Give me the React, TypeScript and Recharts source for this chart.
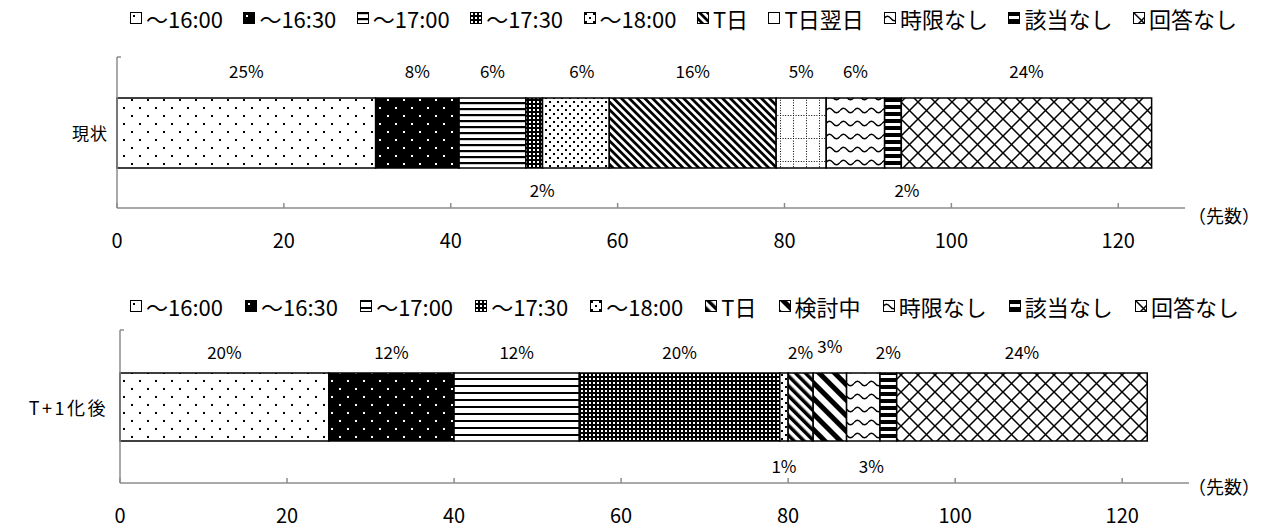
import React from "react";
import { BarChart, Bar, XAxis, YAxis, LabelList } from "recharts";

// 現状
const categoryNow = "現状";
const seriesNow = ["〜16:00", "〜16:30", "〜17:00", "〜17:30", "〜18:00", "T日", "T日翌日", "時限なし", "該当なし", "回答なし"];
const valuesNow = [31, 10, 8, 2, 8, 20, 6, 7, 2, 30];

// T+1化後
const categoryAfter = "T+1化後";
const seriesAfter = ["〜16:00", "〜16:30", "〜17:00", "〜17:30", "〜18:00", "T日", "検討中", "時限なし", "該当なし", "回答なし"];
const valuesAfter = [25, 15, 15, 24, 1, 3, 4, 4, 2, 30];

const xTicks = [0, 20, 40, 60, 80, 100, 120];
const unitLabel = "（先数）";

const FONT = '"Noto Sans CJK JP", "Noto Sans", sans-serif';
const AXIS = "#8c8c8c";

const fillsNow = ["p-dot", "p-dotinv", "p-hline", "p-grid", "p-dot2", "p-diag", "p-dotgrid", "p-wave", "p-hthick", "p-diamond"];
const fillsAfter = ["p-dot", "p-dotinv", "p-hline2", "p-grid", "p-dot2", "p-diag2", "p-diag3", "p-wave", "p-hthick", "p-diamond"];

function Patterns() {
  return (
    <svg width="0" height="0" style={{ position: "absolute" }}>
      <defs>
        <pattern id="p-dot" width="16" height="16" patternUnits="userSpaceOnUse">
          <rect width="16" height="16" fill="#fff" />
          <rect x="3" y="3" width="2" height="2" fill="#000" />
          <rect x="11" y="11" width="2" height="2" fill="#000" />
        </pattern>
        <pattern id="p-dotinv" width="16" height="16" patternUnits="userSpaceOnUse">
          <rect width="16" height="16" fill="#000" />
          <rect x="3" y="3" width="2" height="2" fill="#fff" />
          <rect x="11" y="11" width="2" height="2" fill="#fff" />
        </pattern>
        <pattern id="p-hline" width="8" height="6" patternUnits="userSpaceOnUse">
          <rect width="8" height="6" fill="#fff" />
          <rect y="0" width="8" height="2.2" fill="#000" />
        </pattern>
        <pattern id="p-hline2" width="8" height="7" patternUnits="userSpaceOnUse">
          <rect width="8" height="7" fill="#fff" />
          <rect y="0" width="8" height="2" fill="#000" />
        </pattern>
        <pattern id="p-grid" width="4" height="4" patternUnits="userSpaceOnUse">
          <rect width="4" height="4" fill="#000" />
          <rect x="1" y="1" width="2" height="2" fill="#fff" />
        </pattern>
        <pattern id="p-dot2" width="8" height="8" patternUnits="userSpaceOnUse">
          <rect width="8" height="8" fill="#fff" />
          <rect x="1" y="1" width="2" height="2" fill="#000" />
          <rect x="5" y="5" width="2" height="2" fill="#000" />
        </pattern>
        <pattern id="p-diag" width="5.5" height="10" patternUnits="userSpaceOnUse" patternTransform="rotate(-45)">
          <rect width="5.5" height="10" fill="#fff" />
          <rect width="2.75" height="10" fill="#000" />
        </pattern>
        <pattern id="p-diag2" width="7" height="10" patternUnits="userSpaceOnUse" patternTransform="rotate(-45)">
          <rect width="7" height="10" fill="#fff" />
          <rect width="3.5" height="10" fill="#000" />
        </pattern>
        <pattern id="p-diag3" width="11" height="10" patternUnits="userSpaceOnUse" patternTransform="rotate(-45)">
          <rect width="11" height="10" fill="#fff" />
          <rect width="5" height="10" fill="#000" />
        </pattern>
        <pattern id="p-dotgrid" width="13" height="23" patternUnits="userSpaceOnUse">
          <rect width="13" height="23" fill="#fff" />
          <line x1="0" y1="0.5" x2="13" y2="0.5" stroke="#000" strokeWidth="1" strokeDasharray="1 1.6" />
          <line x1="0.5" y1="0" x2="0.5" y2="23" stroke="#000" strokeWidth="1" strokeDasharray="1 1.6" />
        </pattern>
        <pattern id="p-wave" width="14" height="13" patternUnits="userSpaceOnUse">
          <rect width="14" height="13" fill="#fff" />
          <path d="M0 6.5 Q3.5 2 7 6.5 T14 6.5" stroke="#000" strokeWidth="1.3" fill="none" />
        </pattern>
        <pattern id="p-hthick" width="8" height="7" patternUnits="userSpaceOnUse">
          <rect width="8" height="7" fill="#fff" />
          <rect width="8" height="4" fill="#000" />
        </pattern>
        <pattern id="p-diamond" width="17" height="17" patternUnits="userSpaceOnUse">
          <rect width="17" height="17" fill="#fff" />
          <path d="M0 0 L17 17 M17 0 L0 17" stroke="#000" strokeWidth="1.5" />
        </pattern>
      </defs>
    </svg>
  );
}

function LegendRow({ series, fills, left, right, top }: any) {
  return (
    <div
      style={{
        position: "absolute",
        left,
        width: right - left,
        top,
        display: "flex",
        justifyContent: "space-between",
        alignItems: "center",
        fontFamily: FONT,
        fontSize: 22,
        whiteSpace: "nowrap",
        color: "#000",
      }}
    >
      {series.map((s: string, i: number) => (
        <div key={s + i} style={{ display: "flex", alignItems: "center" }}>
          <svg width="12" height="12" style={{ marginRight: 4 }}>
            <rect x="0.5" y="0.5" width="11" height="11" fill={`url(#${fills[i]})`} stroke="#000" strokeWidth="1" />
          </svg>
          <span>{s}</span>
        </div>
      ))}
    </div>
  );
}

function StackChart(props: any) {
  const {
    category, series, values, fills, below, shift, lift,
    top, plotTop, plotHeight, plotLeft, plotRight, barSize, aboveGap, belowGap, catGap, catSize, catSpacing, unitDy,
  } = props;
  const total = values.reduce((a: number, b: number) => a + b, 0);
  const row: any = { name: category };
  series.forEach((_: string, i: number) => (row["s" + i] = values[i]));
  const data = [row];
  const xAxisH = 45;
  const height = plotTop + plotHeight + xAxisH + 5;

  const XTick = (p: any) => {
    const { x, y, payload } = p;
    return (
      <g>
        <line x1={x} y1={y} x2={x} y2={y - 5} stroke={AXIS} strokeWidth={1.5} />
        <text x={x} y={y + 31} textAnchor="middle" dominantBaseline="central" fontSize={20} fontFamily={FONT} fill="#000">
          {payload.value}
        </text>
      </g>
    );
  };

  const YTick = (p: any) => {
    const { x, y, payload } = p;
    return (
      <g>
        <line x1={plotLeft} y1={plotTop} x2={plotLeft + 4} y2={plotTop} stroke={AXIS} strokeWidth={1.5} />
        <text x={x - catGap} y={y} textAnchor="end" dominantBaseline="central" fontSize={catSize} fontFamily={FONT} fill="#000" letterSpacing={catSpacing}>
          {payload.value}
        </text>
      </g>
    );
  };

  const makeLabel = (i: number) => (p: any) => {
    const { x, y, width, height: h, value } = p;
    const pct = Math.round((value / total) * 100) + "%";
    const isBelow = below.includes(i);
    const cx = Number(x) + Number(width) / 2 + (shift[i] || 0);
    const cy = isBelow ? Number(y) + Number(h) + belowGap : Number(y) - aboveGap - (lift[i] || 0);
    return (
      <text x={cx} y={cy} textAnchor="middle" dominantBaseline="central" fontSize={17} fontFamily={FONT} fill="#000">
        {pct}
      </text>
    );
  };

  const UnitLabel = (p: any) => {
    const vb = p.viewBox || {};
    return (
      <text x={1188} y={vb.y + unitDy} dominantBaseline="central" fontSize={18} fontFamily={FONT} fill="#000">
        {unitLabel}
      </text>
    );
  };

  return (
    <div style={{ position: "absolute", left: 0, top }}>
      <BarChart
        layout="vertical"
        width={1265}
        height={height}
        data={data}
        margin={{ top: plotTop, right: 1265 - plotRight, bottom: 5, left: 0 }}
        barSize={barSize}
      >
        <XAxis
          type="number"
          domain={[0, 128]}
          ticks={xTicks}
          interval={0}
          height={xAxisH}
          axisLine={{ stroke: AXIS, strokeWidth: 1.5 }}
          tickLine={false}
          tickSize={0}
          tickMargin={0}
          tick={<XTick />}
          label={<UnitLabel />}
        />
        <YAxis
          type="category"
          dataKey="name"
          width={plotLeft}
          axisLine={{ stroke: AXIS, strokeWidth: 1.5 }}
          tickLine={false}
          tickSize={0}
          tickMargin={0}
          tick={<YTick />}
        />
        {series.map((s: string, i: number) => (
          <Bar
            key={"s" + i}
            dataKey={"s" + i}
            name={s}
            stackId="a"
            fill={`url(#${fills[i]})`}
            stroke="#000"
            strokeWidth={1.5}
            isAnimationActive={false}
          >
            <LabelList dataKey={"s" + i} content={makeLabel(i)} />
          </Bar>
        ))}
      </BarChart>
    </div>
  );
}

export default function App() {
  return (
    <div style={{ position: "absolute", left: 0, top: 0, width: 1265, height: 527, background: "#fff", overflow: "hidden" }}>
      <Patterns />
      <LegendRow series={seriesNow} fills={fillsNow} left={130} right={1237} top={2} />
      <StackChart
        category={categoryNow}
        series={seriesNow}
        values={valuesNow}
        fills={fillsNow}
        below={[3, 8]}
        shift={{ 3: 8, 4: 6, 8: 14 }}
        lift={{}}
        top={0}
        plotTop={57}
        plotHeight={151}
        plotLeft={117}
        plotRight={1185}
        barSize={70}
        aboveGap={28}
        belowGap={21}
        catGap={9}
        catSize={17}
        catSpacing={1}
        unitDy={7}
      />
      <LegendRow series={seriesAfter} fills={fillsAfter} left={130} right={1239} top={290} />
      <StackChart
        category={categoryAfter}
        series={seriesAfter}
        values={valuesAfter}
        fills={fillsAfter}
        below={[4, 7]}
        shift={{ 7: 8 }}
        lift={{ 6: 6 }}
        top={273}
        plotTop={57}
        plotHeight={153}
        plotLeft={120}
        plotRight={1189}
        barSize={68}
        aboveGap={22}
        belowGap={24}
        catGap={12}
        catSize={18}
        catSpacing={2.5}
        unitDy={3}
      />
    </div>
  );
}
